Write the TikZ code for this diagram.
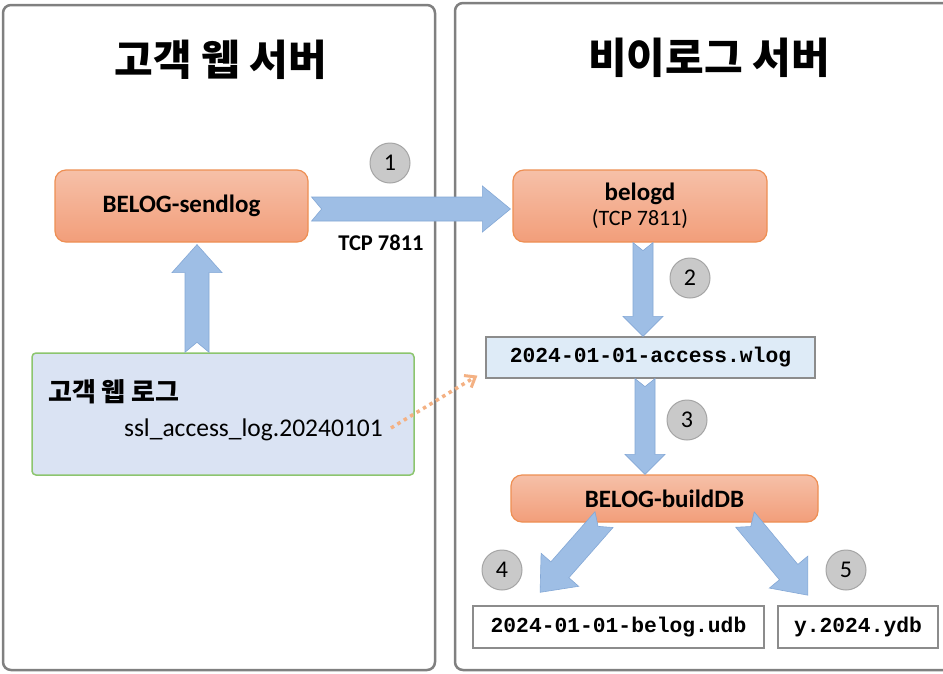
\documentclass[tikz,border=0pt]{standalone}
\usepackage{fontspec}
\setmainfont{Carlito}
\setmonofont{Liberation Mono}
\newfontfamily\kr{Noto Sans CJK KR}
\usetikzlibrary{arrows.meta,calc}
\definecolor{panelgray}{RGB}{128,128,128}
\definecolor{orangetop}{RGB}{246,192,168}
\definecolor{orangebot}{RGB}{242,158,122}
\definecolor{orangeline}{RGB}{238,143,83}
\definecolor{arrowblue}{RGB}{158,190,229}
\definecolor{arrowline}{RGB}{132,168,214}
\definecolor{logfill}{RGB}{218,227,243}
\definecolor{logline}{RGB}{140,197,110}
\definecolor{wlogfill}{RGB}{222,235,247}
\definecolor{fileline}{RGB}{140,140,140}
\definecolor{circfill}{RGB}{201,201,201}
\definecolor{circline}{RGB}{165,165,165}
\definecolor{dotorange}{RGB}{244,177,131}
\tikzset{
  panel/.style={draw=panelgray, line width=2.5pt, rounded corners=8pt},
  procbox/.style={draw=orangeline, line width=1.2pt, rounded corners=11pt,
    top color=orangetop, bottom color=orangebot, align=center,
    font=\bfseries\fontsize{25}{28}\selectfont, inner sep=0pt},
  logbox/.style={draw=logline, line width=1.5pt, fill=logfill, rounded corners=4pt, inner sep=0pt},
  filebox/.style={draw=fileline, line width=1.2pt, inner sep=0pt,
    font=\ttfamily\bfseries\fontsize{21.3}{24}\selectfont},
  stepnum/.style={circle, draw=circline, line width=1pt, fill=circfill,
    minimum size=40pt, inner sep=0pt, font=\fontsize{24}{26}\selectfont},
  fatarrowstyle/.style={fill=arrowblue, draw=arrowline, line width=0.6pt, line join=miter},
  titletext/.style={font=\kr\bfseries\fontsize{42}{46}\selectfont},
}
\newcommand\fatarrow[6]{%
  \path let \p1=(#1), \p2=(#2), \n1={atan2(\y2-\y1,\x2-\x1)}, \n2={veclen(\x2-\x1,\y2-\y1)} in
    \pgfextra{\xdef\faang{\n1}\xdef\falen{\n2}};
  \filldraw[fatarrowstyle, shift={(#1)}, rotate=\faang]
    (0,-#3) -- ({\falen-#5},-#3) -- ({\falen-#5},-#4) -- (\falen,0) --
    ({\falen-#5},#4) -- ({\falen-#5},#3) -- (0,#3) -- (#6,0) -- cycle;
}
\begin{document}
\begin{tikzpicture}[x=1pt,y=-1pt]
\useasboundingbox (0,0) rectangle (943,673);
\clip (0,0) rectangle (943,673);
\fill[white] (0,0) rectangle (943,673);
% panels
\draw[panel] (3,5) rectangle (435,670);
\draw[panel] (455,3) rectangle (965,670);
\node[titletext] (t1) at (221,60) {고객 웹 서버};
\node[titletext] (t2) at (709,58) {비이로그 서버};
% boxes
\node[procbox, minimum width=253pt, minimum height=72pt] (send) at (181.5,206) {BELOG-sendlog};
\node[procbox, minimum width=254pt, minimum height=72pt] (belogd) at (640,206)
  {belogd\\[-3pt]{\normalfont\fontsize{22}{24}\selectfont(TCP 7811)}};
\node[logbox, minimum width=382pt, minimum height=122pt] (weblog) at (223,414) {};
\node[anchor=west, font=\kr\bfseries\fontsize{26}{28}\selectfont, inner sep=0pt] (wltitle) at (48,392) {고객 웹 로그};
\node[anchor=east, font=\fontsize{25.5}{28}\selectfont, inner sep=0pt] (wlfile) at (383,430) {ssl\_access\_log.20240101};
\node[filebox, fill=wlogfill, minimum width=329pt, minimum height=41pt] (wlog) at (650.5,357.5) {2024-01-01-access.wlog};
\node[procbox, minimum width=307pt, minimum height=47pt] (build) at (664.5,498.5) {BELOG-buildDB};
\node[filebox, fill=white, minimum width=291pt, minimum height=42pt] (udb) at (618.5,627) {2024-01-01-belog.udb};
\node[filebox, fill=white, minimum width=160pt, minimum height=42pt] (ydb) at (858,627) {y.2024.ydb};
% step numbers
\node[stepnum] (n1) at (390,163) {1};
\node[stepnum] (n2) at (690,278) {2};
\node[stepnum] (n3) at (687,420) {3};
\node[stepnum] (n4) at (502,570) {4};
\node[stepnum] (n5) at (846,570) {5};
\node[font=\bfseries\fontsize{22.5}{24}\selectfont, inner sep=0pt] (tcp) at (381,243) {TCP 7811};
% arrow end points
\coordinate (a1s) at ($(send.east)+(3,3)$);
\coordinate (a1e) at ($(belogd.west)+(-2,3)$);
\coordinate (aus) at (weblog.north -| 197,0);
\coordinate (aue) at ($(send.south -| 197,0)+(0,2)$);
\coordinate (a2s) at (belogd.south -| 643,0);
\coordinate (a2e) at (wlog.north -| 643,0);
\coordinate (a3s) at (wlog.south -| 645,0);
\coordinate (a3e) at (build.north -| 645,0);
\coordinate (a4s) at ($(build.south -| 604,0)+(0,-3)$);
\coordinate (a4e) at ($(udb.north -| 540,0)+(0,-13)$);
\coordinate (a5s) at ($(build.south -| 745,0)+(0,-3)$);
\coordinate (a5e) at ($(ydb.north -| 808,0)+(0,-10)$);
% fat arrows
\fatarrow{a1s}{a1e}{12}{23}{28}{10}
\fatarrow{aus}{aue}{12}{25}{28}{10}
\fatarrow{a2s}{a2e}{10}{20}{20}{8}
\fatarrow{a3s}{a3e}{10}{20}{20}{8}
\fatarrow{a4s}{a4e}{12}{25}{30}{9}
\fatarrow{a5s}{a5e}{12}{25}{30}{9}
% dotted arrow
\coordinate (ds) at ($(wlfile.east)+(8,-2)$);
\draw[dotorange, line width=3.5pt, dash pattern=on 3.5pt off 4pt,
  -{Straight Barb[length=9pt,width=14pt,line width=3pt]}] (ds) -- ($(wlog.south west)+(-8,-3)$);
\end{tikzpicture}
\end{document}
